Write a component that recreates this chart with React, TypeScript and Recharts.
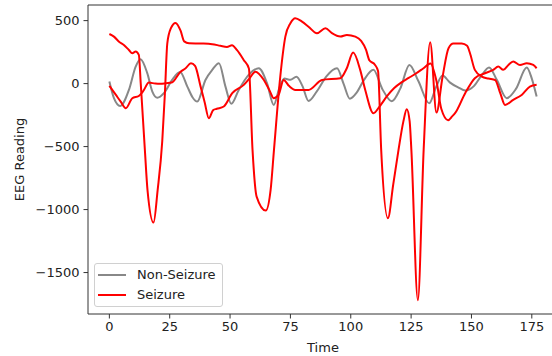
import React from "react";
import { LineChart, Line, XAxis, YAxis, Legend, ReferenceLine } from "recharts";

// sample times and readings
const nonSeizureTime = [0, 1.9, 4.5, 8.1, 10.9, 12.9, 15.7, 17.8, 19.9, 22.6, 26, 29.3, 32.3, 34.5, 36.4, 39.8, 42.6, 45.4, 48.1, 50.5, 53.6, 57.7, 61.9, 65.3, 68.1, 70.5, 72.5, 75, 77.5, 80, 82.5, 86, 90, 94.3, 97, 99.6, 102.5, 105.5, 109.4, 113, 117, 120.5, 124.3, 128, 132.5, 135.5, 138, 141, 144.5, 147.5, 151, 154, 157.3, 160.5, 164.6, 168.5, 172.9, 175, 177];
const nonSeizureValues = [16, -116, -178, -50, 135, 194, 83, -63, -112, -76, 29, 92, -24, -110, -143, 29, 109, 162, -24, -160, -50, 69, 122, 3, -169, -30, 40, 30, 55, -20, -138, -60, 60, 122, 0, -120, -70, 30, 109, -40, -140, -40, 148, 20, -156, -20, 65, 10, -30, -55, -20, 60, 128, 30, -116, -40, 128, 40, -103];

const seizureATime = [0, 1.9, 4, 6, 8.1, 9.5, 10.9, 12.2, 13, 14.7, 15.8, 18.3, 20, 21.9, 23, 24, 25.5, 27.4, 29.5, 31, 33, 38.3, 42.6, 46, 48.7, 50.8, 52.9, 55.7, 57.8, 59.3, 61, 64.8, 66.8, 68.2, 70.8, 72.9, 75, 77, 79.8, 82.5, 86, 89.5, 92.2, 95.7, 98.4, 101.9, 104.3, 106.3, 107.7, 110, 111.3, 112.6, 115.4, 117.6, 119.8, 121.8, 123.2, 124.4, 125.1, 127.8, 130.2, 132.9, 135.5, 138, 140.5, 142.5, 146, 148.2, 149.4, 151.4, 154.3, 157, 159.8, 162, 163.9, 167.3, 170.8, 174.2, 177];
const seizureAValues = [394, 373, 333, 307, 267, 241, 254, 228, 0, -524, -845, -1103, -845, -460, -80, 320, 440, 482, 420, 335, 320, 318, 313, 300, 291, 305, 265, 186, 120, -524, -897, -1008, -844, -524, 56, 373, 479, 519, 492, 452, 400, 440, 400, 373, 386, 373, 340, 270, 185, 150, 100, -524, -1068, -800, -524, -300, -203, -300, -524, -1719, -524, 329, -230, 50, 281, 318, 318, 300, 241, 109, 56, 40, 29, -80, -169, -129, -90, -24, -10];

const seizureBTime = [0, 2.7, 4.7, 6.8, 9.5, 12.2, 14, 16.4, 19, 21.2, 23.5, 25.8, 29.5, 31.6, 33.8, 35.5, 37.8, 39.5, 41.2, 43, 44.5, 47.4, 50.9, 55.7, 58, 60.5, 64, 66.5, 68.1, 70.1, 72.2, 74.5, 77, 82.5, 88.1, 95.7, 98.3, 101, 103.9, 106, 109.4, 112, 115, 118, 121, 124, 127, 130, 133, 135.5, 137.5, 140.3, 142, 143.2, 147.4, 151.4, 155.6, 159, 161.1, 163.2, 165.3, 167.3, 170.1, 172.9, 175.6, 177];
const seizureBValues = [-18, -90, -143, -195, -116, -98, -60, 8, 0, -2, 3, 8, 95, 122, 162, 140, -24, -150, -275, -210, -200, -182, -76, -10, 40, 95, 29, -60, -116, -90, 29, -20, -50, -50, 29, 43, 120, 246, 109, -50, -235, -180, -100, -35, 10, 45, 80, 120, 160, 20, -200, -290, -260, -235, -76, 43, 82, 109, 135, 109, 148, 175, 148, 162, 148, 122];

const xTicks = [0, 25, 50, 75, 100, 125, 150, 175];
const yTicks = [-1500, -1000, -500, 0, 500];

const legendItems = [
  { label: "Non-Seizure", color: "#888888" },
  { label: "Seizure", color: "#ff0000" },
];

const toPoints = (ts: number[], vs: number[]) => ts.map((t, i) => ({ t, v: vs[i] }));

const nonSeizureData = toPoints(nonSeizureTime, nonSeizureValues);
const seizureAData = toPoints(seizureATime, seizureAValues);
const seizureBData = toPoints(seizureBTime, seizureBValues);

const FONT = "'DejaVu Sans', sans-serif";
const TEXT = "#222";
const SPINE = "#333";
const xDomain = [-8.85, 185.85];
const yDomain = [-1829, 624];

const minus = (v: number) => String(v).replace("-", "\u2212");

const MplLegend = () => (
  <div
    style={{
      boxSizing: "border-box",
      width: 129,
      height: 44,
      border: "1px solid #d0d0d0",
      borderRadius: 3,
      background: "rgba(255,255,255,0.8)",
      paddingTop: 1,
      fontFamily: FONT,
      fontSize: 13,
      color: TEXT,
    }}
  >
    {legendItems.map((item) => (
      <div key={item.label} style={{ display: "flex", alignItems: "center", height: 20 }}>
        <div style={{ width: 28, height: 2, marginLeft: 3, background: item.color }} />
        <span style={{ marginLeft: 11, lineHeight: "20px" }}>{item.label}</span>
      </div>
    ))}
  </div>
);

export default function App() {
  return (
    <div
      style={{
        position: "absolute",
        left: 0,
        top: 0,
        width: 552,
        height: 356,
        overflow: "hidden",
        background: "#fff",
        fontFamily: FONT,
      }}
    >
      <LineChart width={562} height={356} margin={{ top: 5, right: 4, bottom: 0, left: 0 }}>
        <XAxis
          dataKey="t"
          type="number"
          domain={xDomain}
          allowDataOverflow
          ticks={xTicks}
          height={42}
          tickSize={4.5}
          tickMargin={3}
          stroke={SPINE}
          tick={{ fill: TEXT, fontSize: 13, fontFamily: FONT }}
          label={{ value: "Time", position: "insideBottom", offset: 4, fill: TEXT, fontSize: 13, fontFamily: FONT }}
        />
        <YAxis
          type="number"
          domain={yDomain}
          allowDataOverflow
          ticks={yTicks}
          width={88}
          tickSize={4.5}
          tickMargin={4}
          stroke={SPINE}
          tickFormatter={minus}
          tick={{ fill: TEXT, fontSize: 13, fontFamily: FONT }}
          label={{
            value: "EEG Reading",
            angle: -90,
            position: "insideLeft",
            offset: 19,
            fill: TEXT,
            fontSize: 13,
            fontFamily: FONT,
            style: { textAnchor: "middle" },
          }}
        />
        {/* top spine of the axes frame */}
        <ReferenceLine y={yDomain[1]} stroke={SPINE} strokeWidth={1} ifOverflow="extendDomain" />
        <Line data={nonSeizureData} dataKey="v" type="monotone" stroke="#888888" strokeWidth={2} dot={false} activeDot={false} isAnimationActive={false} />
        <Line data={seizureAData} dataKey="v" type="monotone" stroke="#ff0000" strokeWidth={2} dot={false} activeDot={false} isAnimationActive={false} />
        <Line data={seizureBData} dataKey="v" type="monotone" stroke="#ff0000" strokeWidth={2} dot={false} activeDot={false} isAnimationActive={false} />
        <Legend
          layout="vertical"
          align="center"
          verticalAlign="middle"
          content={<MplLegend />}
          wrapperStyle={{ left: 94, top: 263, width: 129, height: 44 }}
        />
      </LineChart>
    </div>
  );
}
